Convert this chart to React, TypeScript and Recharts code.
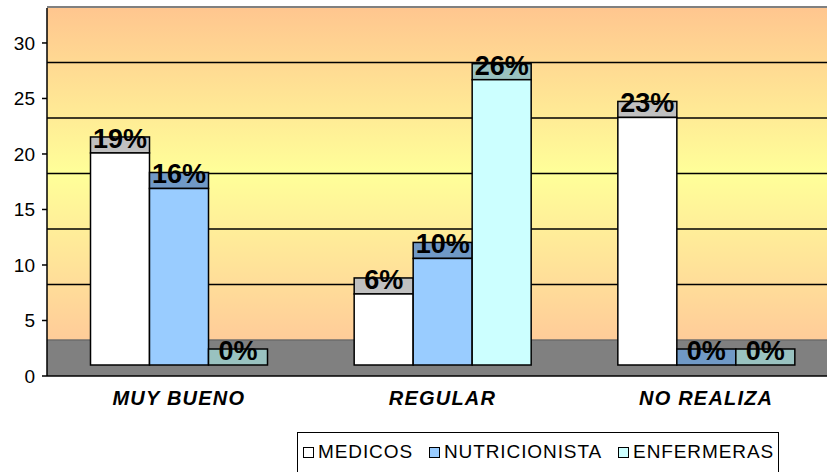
import { BarChart, Bar, XAxis, YAxis, CartesianGrid, LabelList } from "recharts";

const categories = ["MUY BUENO", "REGULAR", "NO REALIZA"];
const medicos = [19.1, 6.4, 22.3];
const nutricionista = [15.9, 9.6, 0];
const enfermeras = [0, 25.7, 0];
const medicosPct = ["19%", "6%", "23%"];
const nutricionistaPct = ["16%", "10%", "0%"];
const enfermerasPct = ["0%", "26%", "0%"];
const yTicks = [0, 5, 10, 15, 20, 25, 30];
const separatorTicks = [0, 1, 2, 3];

const seriesNames = ["MEDICOS", "NUTRICIONISTA", "ENFERMERAS"];
const frontColors = ["#FFFFFF", "#99CCFF", "#CCFFFF"];
const topColors = ["#C0C0C0", "#7099C6", "#99C2C0"];

const data = categories.map((name, i) => ({
  name,
  medicos: medicos[i],
  nutricionista: nutricionista[i],
  enfermeras: enfermeras[i],
  medicosPct: medicosPct[i],
  nutricionistaPct: nutricionistaPct[i],
  enfermerasPct: enfermerasPct[i],
}));

const FONT = "'Liberation Sans', Arial, sans-serif";
const Y_MAX = 33.15;
const WALL_DEPTH = 36; // back wall is drawn this many px above the front axis
const LIFT = 11; // bar front sits between floor front and back
const TOP_H = 16; // height of the bar's top face

const bar3d = (topFill: string) => (p: any) => {
  const { x, y, width, height, fill } = p;
  const yFront = y - LIFT;
  return (
    <g>
      <rect x={x} y={yFront - TOP_H} width={width} height={TOP_H} fill={topFill} stroke="#000" strokeWidth={1.5} />
      {height > 0 && (
        <rect x={x} y={yFront} width={width} height={height} fill={fill} stroke="#000" strokeWidth={1.5} />
      )}
    </g>
  );
};

const pctLabel = (p: any) => (
  <text
    x={p.x + p.width / 2}
    y={p.y - LIFT - 5}
    textAnchor="middle"
    fontFamily={FONT}
    fontSize={27}
    fontWeight="bold"
    fill="#000"
  >
    {p.value}
  </text>
);

const wallLine = (p: any) => {
  const y = p.y1 - WALL_DEPTH;
  const isFloor = p.index === 0;
  const isTop = p.index === yTicks.length - 1;
  return (
    <line
      key={p.key}
      x1={p.x1}
      x2={p.x2}
      y1={y}
      y2={y}
      stroke={isTop ? "#808080" : isFloor ? "#606060" : "#000"}
      strokeWidth={isTop ? 2 : isFloor ? 1 : 1.5}
    />
  );
};

export default function App() {
  const keys = ["medicos", "nutricionista", "enfermeras"];
  return (
    <div
      style={{
        position: "fixed",
        left: 0,
        top: 0,
        width: 827,
        height: 472,
        overflow: "hidden",
        background: "#fff",
        fontFamily: FONT,
      }}
    >
      <BarChart
        width={850}
        height={472}
        data={data}
        margin={{ top: 8, right: 12, left: 0, bottom: 56 }}
        barCategoryGap="16.5%"
        barGap={0}
      >
        <defs>
          <linearGradient id="wall" x1="0" y1="0" x2="0" y2="1">
            <stop offset="0%" stopColor="#FFC68F" />
            <stop offset="45%" stopColor="#FFFF99" />
            <stop offset="90%" stopColor="#FFCC99" />
            <stop offset="90.2%" stopColor="#808080" />
            <stop offset="100%" stopColor="#808080" />
          </linearGradient>
        </defs>
        <CartesianGrid
          vertical={false}
          horizontal={wallLine}
          fill="url(#wall)"
          fillOpacity={1}
          stroke="#000"
        />
        <XAxis
          dataKey="name"
          axisLine={{ stroke: "#000", strokeWidth: 1.5 }}
          tickLine={false}
          tickSize={0}
          tickMargin={15}
          height={40}
          interval={0}
          tick={{
            fill: "#000",
            fontSize: 20,
            fontWeight: "bold",
            fontStyle: "italic",
            fontFamily: FONT,
            letterSpacing: 1.2,
          }}
        />
        <XAxis
          xAxisId="sep"
          type="number"
          domain={[0, 3]}
          ticks={separatorTicks}
          allowDataOverflow
          axisLine={false}
          tick={false}
          tickLine={{ stroke: "#000", strokeWidth: 1.5 }}
          tickSize={5}
          height={0}
        />
        <YAxis
          domain={[0, Y_MAX]}
          ticks={yTicks}
          allowDataOverflow
          interval={0}
          width={47}
          axisLine={{ stroke: "#000", strokeWidth: 1.5 }}
          tickLine={{ stroke: "#000", strokeWidth: 1.5 }}
          tickSize={5}
          tickMargin={7}
          tick={{ fill: "#000", fontSize: 19, fontFamily: FONT }}
        />
        {keys.map((k, i) => (
          <Bar
            key={k}
            dataKey={k}
            name={seriesNames[i]}
            fill={frontColors[i]}
            shape={bar3d(topColors[i])}
            isAnimationActive={false}
          >
            <LabelList dataKey={`${k}Pct`} content={pctLabel} />
          </Bar>
        ))}
      </BarChart>
      <div
        style={{
          position: "absolute",
          left: 297,
          top: 432,
          width: 482,
          height: 60,
          border: "1px solid #000",
          boxSizing: "border-box",
          display: "flex",
          alignItems: "flex-start",
          paddingTop: 9,
          paddingLeft: 5,
          gap: 16,
          fontSize: 19,
          letterSpacing: 0.9,
          color: "#000",
        }}
      >
        {seriesNames.map((n, i) => (
          <span key={n} style={{ display: "inline-flex", alignItems: "center", lineHeight: "20px" }}>
            <span
              style={{
                display: "inline-block",
                width: 9,
                height: 9,
                border: "1px solid #000",
                background: frontColors[i],
                marginRight: 4,
              }}
            />
            {n}
          </span>
        ))}
      </div>
    </div>
  );
}
